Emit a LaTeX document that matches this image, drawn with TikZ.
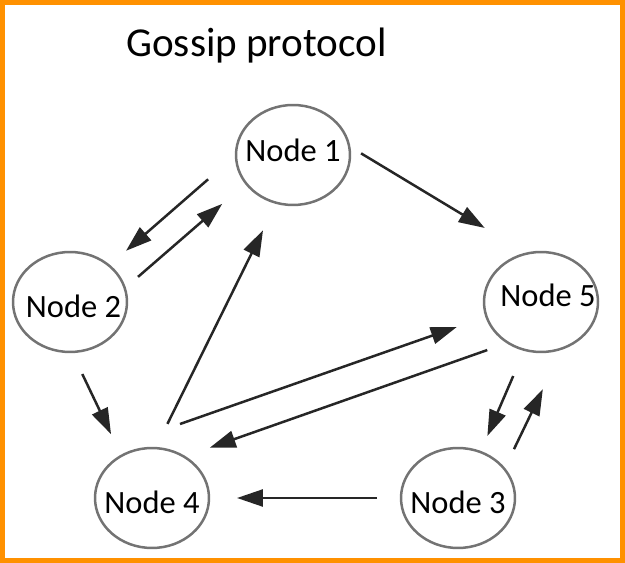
\documentclass[tikz,border=0pt]{standalone}
\usepackage{fontspec}
\setmainfont{Carlito}
\usetikzlibrary{arrows.meta,shapes.geometric}
\definecolor{frameorange}{RGB}{255,145,0}

\begin{document}
\begin{tikzpicture}[x=0.02cm,y=-0.02cm,
  peer/.style={ellipse, draw=black!55, line width=0.05cm, minimum width=2.28cm,
    minimum height=2cm, inner sep=0pt, outer sep=0pt},
  nlabel/.style={font=\fontsize{18.5}{22}\selectfont},
  msg/.style={-{Triangle[length=0.52cm,width=0.34cm]}, line width=0.05cm, draw=black!85}]
\useasboundingbox (0,0) rectangle (625,563);

% Frame
\draw[frameorange, line width=0.1cm] (2.5,2.5) rectangle (622.5,560.5);

% Title
\node[anchor=base west, inner sep=0pt, font=\fontsize{23.4}{28}\selectfont] (title) at (126,57) {Gossip protocol};

% Nodes
\node[peer, label={[nlabel, yshift=0.1cm]center:Node 1}] (n1) at (293,155) {};
\node[peer, label={[nlabel, xshift=0.07cm, yshift=-0.08cm]center:Node 2}] (n2) at (70,302) {};
\node[peer, label={[nlabel, xshift=0.14cm, yshift=0.14cm]center:Node 5}] (n5) at (541,302) {};
\node[peer, label={[nlabel, yshift=-0.08cm]center:Node 4}] (n4) at (152,498) {};
\node[peer, label={[nlabel, yshift=-0.08cm]center:Node 3}] (n3) at (458,498) {};

% Messages
\draw[msg, shorten <=0.74cm, shorten >=0.45cm] (n1.180) -- (n2.43);
\draw[msg, shorten <=0.35cm, shorten >=0.63cm] (n2.14) -- (n1.211);
\draw[msg, shorten <=0.54cm, shorten >=0.61cm] (n4.86) -- (n1.251);
\draw[msg, shorten <=0.28cm, shorten >=0.99cm] (n1.9) -- (n5.106);
\draw[msg, shorten >=0.63cm] ([shift={(28,-24)}]n4.north) -- (n5.195);
\draw[msg, shorten <=0.44cm, shorten >=0.54cm] (n5.231) -- (n4.52);
\draw[msg, shorten <=0.49cm, shorten >=0.48cm] (n2.272) -- (n4.126);
\draw[msg, shorten <=0.57cm, shorten >=0.35cm] (n5.251) -- (n3.64);
\draw[msg, shorten <=0.44cm, shorten >=0.91cm] (n3.32) -- (n5.295);
\draw[msg, shorten <=0.48cm, shorten >=0.56cm] (n3.180) -- (n4.0);
\end{tikzpicture}
\end{document}
